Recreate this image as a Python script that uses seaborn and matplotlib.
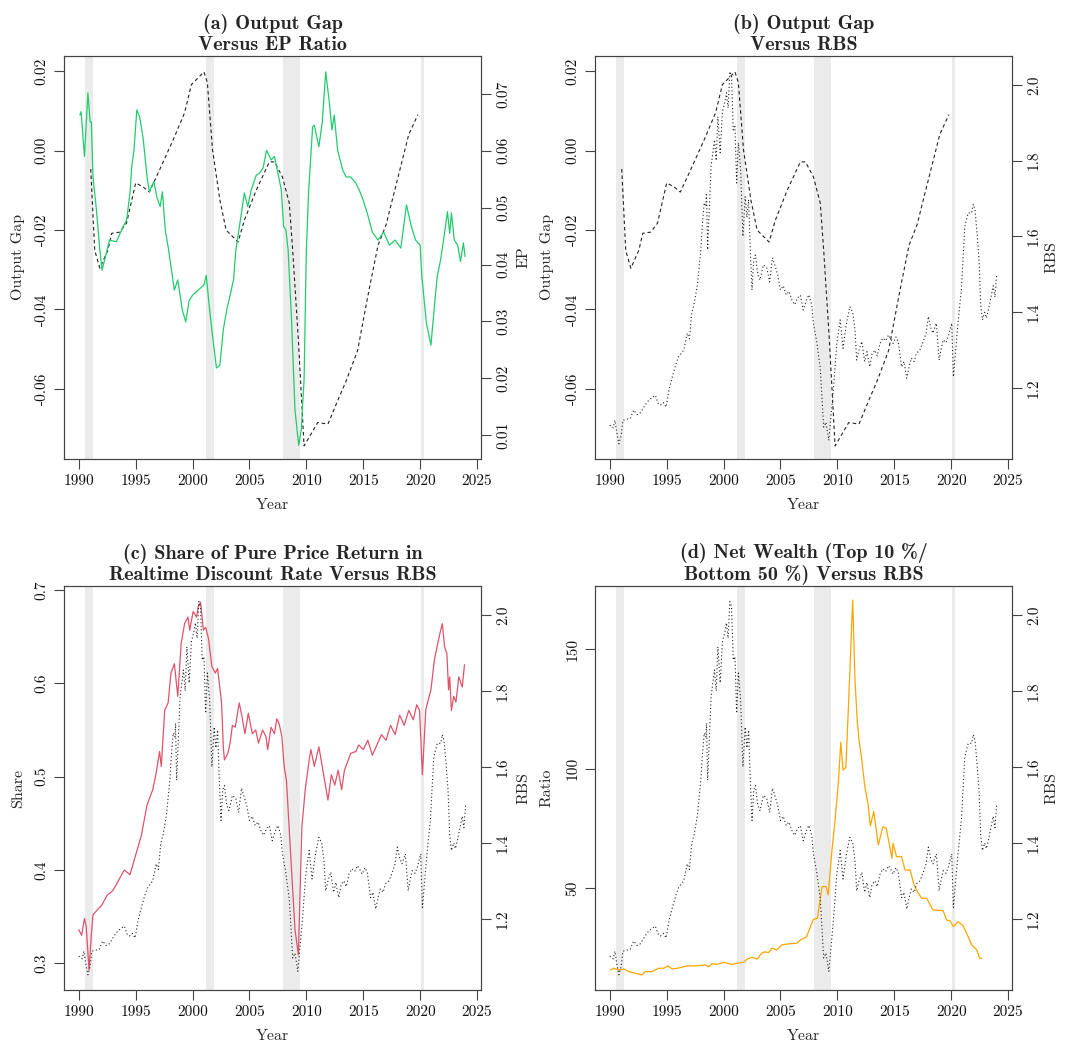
import matplotlib
matplotlib.use("Agg")
import matplotlib.pyplot as plt
import seaborn as sns

sns.set_style("ticks")
plt.rcParams['font.family'] = ['cmr10', 'DejaVu Serif']
plt.rcParams['axes.formatter.use_mathtext'] = True
plt.rcParams['axes.unicode_minus'] = False

# recession bands (NBER)
rec_start = [1990.55, 2001.2, 2007.95, 2020.08]
rec_end = [1991.22, 2001.9, 2009.48, 2020.3]

# output gap (quarterly, ends 2019)
gap_year = [1991.05, 1991.4, 1991.85, 1992.55, 1992.9, 1993.6, 1994.2, 1995.0, 1995.65, 1996.2,
            1997.1, 1998.3, 1999.3, 1999.9, 2001.0, 2001.3, 2001.75, 2002.4, 2002.95, 2004.0,
            2004.55, 2005.6, 2006.75, 2007.2, 2007.9, 2008.5, 2008.8, 2009.3, 2009.8, 2011.0,
            2011.9, 2012.75, 2013.5, 2014.5, 2015.5, 2016.3, 2017.0, 2018.0, 2019.0, 2019.8]
gap = [-0.0046, -0.0251, -0.0296, -0.0251, -0.0208, -0.0205, -0.0182, -0.0081, -0.0091, -0.0104,
       -0.0048, 0.0028, 0.0096, 0.0167, 0.0199, 0.0172, 0.0003, -0.0124, -0.0200, -0.0230,
       -0.0175, -0.0099, -0.0028, -0.0028, -0.0066, -0.0132, -0.0251, -0.0478, -0.0744, -0.0685,
       -0.0689, -0.0630, -0.0580, -0.0504, -0.0352, -0.0238, -0.0187, -0.0073, 0.0041, 0.0091]

# earnings-price ratio
ep_year = [1990.1, 1990.2, 1990.5, 1990.8, 1991.0, 1991.1, 1991.25, 1991.55, 1991.85, 1992.05,
           1992.7, 1993.3, 1993.9, 1994.2, 1994.5, 1994.65, 1994.85, 1995.1, 1995.35, 1995.65,
           1996.0, 1996.2, 1996.6, 1996.85, 1997.15, 1997.35, 1997.6, 1997.9, 1998.4, 1998.7,
           1999.1, 1999.4, 1999.7, 2000.0, 2000.5, 2001.0, 2001.2, 2001.5, 2001.8, 2002.1,
           2002.4, 2002.7, 2003.0, 2003.3, 2003.6, 2003.8, 2004.3, 2004.55, 2004.85, 2005.15,
           2005.6, 2005.9, 2006.2, 2006.5, 2006.9, 2007.2, 2007.5, 2007.8, 2008.0, 2008.2,
           2008.4, 2008.7, 2009.0, 2009.33, 2009.55, 2009.8, 2010.0, 2010.2, 2010.55, 2010.7,
           2011.1, 2011.4, 2011.7, 2012.0, 2012.25, 2012.45, 2012.75, 2013.2, 2013.5, 2013.9,
           2014.35, 2014.65, 2015.0, 2015.4, 2015.8, 2016.3, 2016.8, 2017.3, 2017.8, 2018.3,
           2018.8, 2019.2, 2019.6, 2020.0, 2020.15, 2020.55, 2020.95, 2021.25, 2021.5, 2021.8,
           2022.1, 2022.4, 2022.6, 2022.75, 2023.0, 2023.3, 2023.55, 2023.8, 2023.95]
ep = [0.0663, 0.0669, 0.0590, 0.0702, 0.0651, 0.0651, 0.0554, 0.0496, 0.0425, 0.0390,
      0.0443, 0.0440, 0.0467, 0.0478, 0.0526, 0.0572, 0.0601, 0.0672, 0.0660, 0.0623,
      0.0554, 0.0528, 0.0546, 0.0519, 0.0502, 0.0528, 0.0461, 0.0425, 0.0355, 0.0373,
      0.0320, 0.0299, 0.0337, 0.0346, 0.0355, 0.0364, 0.0381, 0.0320, 0.0267, 0.0218,
      0.0223, 0.0285, 0.0320, 0.0346, 0.0373, 0.0425, 0.0491, 0.0526, 0.0502, 0.0531,
      0.0557, 0.0561, 0.0570, 0.0601, 0.0584, 0.0590, 0.0561, 0.0531, 0.0467, 0.0461,
      0.0425, 0.0302, 0.0144, 0.0082, 0.0109, 0.0197, 0.0425, 0.0528, 0.0642, 0.0645,
      0.0607, 0.0651, 0.0739, 0.0689, 0.0637, 0.0663, 0.0601, 0.0566, 0.0554, 0.0554,
      0.0543, 0.0531, 0.0513, 0.0487, 0.0457, 0.0443, 0.0457, 0.0434, 0.0443, 0.0429,
      0.0505, 0.0469, 0.0443, 0.0434, 0.0379, 0.0297, 0.0258, 0.0326, 0.0379, 0.0408,
      0.0449, 0.0493, 0.0455, 0.0491, 0.0443, 0.0434, 0.0405, 0.0438, 0.0414]

# RBS
rbs_year = [1990.0, 1990.3, 1990.45, 1990.6, 1990.8, 1991.0, 1991.15, 1991.5, 1991.8, 1992.1,
            1992.4, 1992.7, 1993.0, 1993.3, 1993.7, 1994.0, 1994.25, 1994.45, 1994.7, 1994.95,
            1995.2, 1995.5, 1995.8, 1996.05, 1996.5, 1996.8, 1997.0, 1997.2, 1997.4, 1997.7,
            1998.0, 1998.15, 1998.3, 1998.45, 1998.5, 1998.6, 1998.9, 1999.2, 1999.35, 1999.5,
            1999.7, 1999.9, 2000.1, 2000.25, 2000.4, 2000.55, 2000.7, 2000.85, 2001.0, 2001.15,
            2001.3, 2001.5, 2001.7, 2001.9, 2002.05, 2002.2, 2002.35, 2002.5, 2002.65, 2002.8,
            2003.0, 2003.2, 2003.5, 2003.8, 2004.05, 2004.3, 2004.5, 2004.75, 2005.0, 2005.25,
            2005.5, 2005.75, 2006.0, 2006.25, 2006.5, 2006.75, 2007.0, 2007.25, 2007.5, 2007.75,
            2007.9, 2008.2, 2008.5, 2008.8, 2009.0, 2009.25, 2009.45, 2009.65, 2009.95, 2010.25,
            2010.5, 2010.8, 2011.1, 2011.35, 2011.55, 2011.7, 2011.9, 2012.15, 2012.4, 2012.6,
            2012.85, 2013.05, 2013.3, 2013.5, 2013.75, 2014.0, 2014.25, 2014.5, 2014.7, 2014.9,
            2015.15, 2015.35, 2015.65, 2015.85, 2016.1, 2016.3, 2016.5, 2016.75, 2016.95, 2017.25,
            2017.55, 2017.8, 2018.0, 2018.2, 2018.4, 2018.7, 2018.95, 2019.1, 2019.3, 2019.55,
            2019.75, 2020.05, 2020.2, 2020.4, 2020.6, 2020.9, 2021.2, 2021.5, 2021.8, 2021.95,
            2022.1, 2022.3, 2022.45, 2022.6, 2022.75, 2022.95, 2023.1, 2023.3, 2023.5, 2023.7,
            2023.85, 2024.0]
rbs = [1.102, 1.095, 1.115, 1.085, 1.053, 1.075, 1.115, 1.118, 1.120, 1.142,
       1.130, 1.135, 1.150, 1.164, 1.175, 1.181, 1.160, 1.155, 1.162, 1.150,
       1.195, 1.230, 1.262, 1.283, 1.300, 1.345, 1.330, 1.398, 1.420, 1.472,
       1.565, 1.636, 1.689, 1.679, 1.715, 1.565, 1.784, 1.855, 1.800, 1.916,
       1.821, 1.930, 1.953, 1.979, 1.939, 2.035, 2.022, 1.881, 1.890, 1.741,
       1.847, 1.776, 1.600, 1.705, 1.650, 1.697, 1.565, 1.459, 1.540, 1.551,
       1.500, 1.485, 1.525, 1.517, 1.480, 1.544, 1.525, 1.500, 1.459, 1.470,
       1.446, 1.455, 1.433, 1.420, 1.438, 1.445, 1.406, 1.430, 1.446, 1.420,
       1.371, 1.320, 1.252, 1.097, 1.110, 1.062, 1.130, 1.195, 1.318, 1.380,
       1.305, 1.371, 1.415, 1.400, 1.354, 1.274, 1.300, 1.323, 1.270, 1.296,
       1.256, 1.290, 1.300, 1.285, 1.318, 1.332, 1.325, 1.340, 1.330, 1.318,
       1.335, 1.323, 1.256, 1.270, 1.226, 1.255, 1.279, 1.270, 1.292, 1.300,
       1.323, 1.345, 1.389, 1.360, 1.345, 1.371, 1.274, 1.300, 1.327, 1.320,
       1.336, 1.371, 1.230, 1.300, 1.371, 1.460, 1.626, 1.662, 1.662, 1.685,
       1.670, 1.600, 1.540, 1.420, 1.380, 1.400, 1.385, 1.410, 1.440, 1.470,
       1.440, 1.500]

# share of pure price return in realtime discount rate
share_year = [1990.0, 1990.25, 1990.5, 1990.65, 1990.9, 1991.1, 1991.25, 1991.6, 1992.0, 1992.5,
              1993.0, 1993.5, 1994.0, 1994.5, 1995.0, 1995.5, 1996.0, 1996.5, 1996.8, 1997.1,
              1997.25, 1997.55, 1997.85, 1998.1, 1998.4, 1998.7, 1999.0, 1999.3, 1999.6, 1999.75,
              2000.05, 2000.35, 2000.5, 2000.7, 2000.95, 2001.15, 2001.4, 2001.7, 2002.0, 2002.2,
              2002.55, 2002.7, 2002.8, 2003.1, 2003.3, 2003.5, 2003.75, 2004.1, 2004.35, 2004.6,
              2004.9, 2005.25, 2005.55, 2005.8, 2006.15, 2006.45, 2006.6, 2006.9, 2007.2, 2007.4,
              2007.6, 2007.85, 2008.05, 2008.25, 2008.7, 2009.0, 2009.3, 2009.6, 2009.9, 2010.25,
              2010.4, 2010.7, 2011.1, 2011.3, 2011.6, 2011.9, 2012.2, 2012.5, 2012.8, 2013.1,
              2013.35, 2013.9, 2014.35, 2014.6, 2015.0, 2015.4, 2015.8, 2016.2, 2016.6, 2017.0,
              2017.4, 2017.8, 2018.2, 2018.6, 2019.0, 2019.4, 2019.7, 2019.95, 2020.2, 2020.5,
              2020.65, 2020.95, 2021.25, 2021.55, 2021.75, 2021.95, 2022.15, 2022.35, 2022.5, 2022.6,
              2022.75, 2022.95, 2023.15, 2023.4, 2023.7, 2023.9]
share = [0.336, 0.330, 0.348, 0.340, 0.293, 0.330, 0.352, 0.357, 0.362, 0.373,
         0.378, 0.389, 0.400, 0.395, 0.416, 0.437, 0.470, 0.486, 0.504, 0.527,
         0.511, 0.571, 0.579, 0.611, 0.621, 0.586, 0.643, 0.664, 0.671, 0.657,
         0.677, 0.671, 0.682, 0.687, 0.657, 0.660, 0.648, 0.618, 0.611, 0.616,
         0.579, 0.532, 0.518, 0.525, 0.536, 0.555, 0.553, 0.579, 0.564, 0.546,
         0.568, 0.546, 0.550, 0.536, 0.550, 0.543, 0.529, 0.553, 0.546, 0.562,
         0.557, 0.543, 0.511, 0.496, 0.400, 0.336, 0.309, 0.445, 0.486, 0.518,
         0.529, 0.511, 0.532, 0.518, 0.496, 0.475, 0.502, 0.491, 0.507, 0.486,
         0.507, 0.525, 0.527, 0.534, 0.529, 0.539, 0.523, 0.534, 0.545, 0.539,
         0.555, 0.545, 0.566, 0.555, 0.571, 0.561, 0.577, 0.571, 0.502, 0.572,
         0.579, 0.593, 0.625, 0.643, 0.654, 0.664, 0.639, 0.632, 0.593, 0.607,
         0.571, 0.586, 0.580, 0.607, 0.596, 0.620]

# net wealth ratio top 10% / bottom 50%
ratio_year = [1990.05, 1990.35, 1990.8, 1991.25, 1991.65, 1992.25, 1992.85, 1993.1, 1993.7, 1994.3,
              1994.75, 1995.1, 1995.5, 1995.95, 1996.8, 1997.65, 1998.4, 1998.7, 1999.0, 1999.4,
              2000.0, 2000.75, 2001.3, 2001.75, 2002.05, 2002.5, 2002.95, 2003.35, 2003.65, 2003.95,
              2004.25, 2004.7, 2005.1, 2005.7, 2006.45, 2006.75, 2007.3, 2007.75, 2007.9, 2008.25,
              2008.65, 2009.0, 2009.2, 2009.5, 2009.8, 2010.1, 2010.3, 2010.5, 2010.75, 2011.0,
              2011.35, 2011.55, 2011.75, 2011.9, 2012.15, 2012.4, 2012.7, 2012.9, 2013.2, 2013.6,
              2014.0, 2014.3, 2014.8, 2014.9, 2015.2, 2015.65, 2015.95, 2016.4, 2016.7, 2016.95,
              2017.4, 2017.85, 2018.4, 2019.3, 2019.6, 2019.9, 2020.2, 2020.6, 2021.05, 2021.5,
              2021.8, 2022.25, 2022.5, 2022.7]
ratio = [15.7, 16.4, 15.7, 16.1, 15.0, 14.3, 13.6, 15.0, 15.0, 16.4,
         16.4, 17.4, 16.1, 16.4, 17.4, 17.4, 17.8, 17.0, 18.3, 18.0,
         18.9, 18.0, 18.6, 18.9, 20.2, 21.0, 20.2, 22.7, 23.3, 22.9,
         24.8, 24.1, 26.2, 26.6, 26.9, 28.2, 29.6, 35.2, 36.9, 37.3,
         50.6, 50.6, 47.1, 64.5, 78.5, 95.0, 111.0, 99.4, 100.5, 128.7,
         170.5, 137.0, 120.0, 112.0, 103.6, 93.0, 85.0, 76.0, 82.0, 68.0,
         75.6, 75.0, 62.4, 68.7, 63.1, 63.1, 57.5, 57.5, 52.0, 49.2,
         45.7, 45.7, 40.8, 40.5, 36.6, 36.3, 33.8, 35.9, 34.2, 29.6,
         26.2, 24.1, 20.6, 20.6]

year_ticks = [1990, 1995, 2000, 2005, 2010, 2015, 2020, 2025]
gap_ticks = [-0.06, -0.04, -0.02, 0.00, 0.02]
gap_labels = ["-0.06", "-0.04", "-0.02", "0.00", "0.02"]
ep_ticks = [0.01, 0.02, 0.03, 0.04, 0.05, 0.06, 0.07]
ep_labels = ["0.01", "0.02", "0.03", "0.04", "0.05", "0.06", "0.07"]
rbs_ticks = [1.2, 1.4, 1.6, 1.8, 2.0]
rbs_labels = ["1.2", "1.4", "1.6", "1.8", "2.0"]
share_ticks = [0.3, 0.4, 0.5, 0.6, 0.7]
share_labels = ["0.3", "0.4", "0.5", "0.6", "0.7"]
ratio_ticks = [50, 100, 150]
ratio_labels = ["50", "100", "150"]

W, H = 1065, 1046
fig = plt.figure(figsize=(W / 100, H / 100), dpi=100)
TITLE_FONT = ['cmb10', 'DejaVu Serif']
DASH = (0, (3.2, 2.6))
DOT = (0, (1, 2.2))


def make_axes(l, t, r, b):
    return fig.add_axes([l / W, 1 - b / H, (r - l) / W, (b - t) / H])


def style_y(ax, ticks, labels, ylim):
    ax.set_ylim(ylim)
    ax.set_yticks(ticks)
    ax.set_yticklabels(labels)
    ax.tick_params(axis='y', labelrotation=90, length=7, width=0.8, pad=4,
                   labelsize=11, color='#444444', labelcolor='#111111')
    for lab in ax.get_yticklabels():
        lab.set_va('center')
    for sp in ax.spines.values():
        sp.set_visible(True)
        sp.set_color('#444444')
        sp.set_linewidth(0.8)


def panel(box, title, ylim_l, ticks_l, labs_l, ylab_l, ylim_r, ticks_r, labs_r, ylab_r,
          lab_l_x, lab_r_x):
    xlim = (1988.7, 2025.35)
    ax = make_axes(*box)
    ax.set_xlim(xlim)
    for s, e in zip(rec_start, rec_end):
        ax.axvspan(s, e, color='#EBEBEB', lw=0, zorder=0)
    ax.set_xticks(year_ticks)
    ax.set_xticklabels([str(y) for y in year_ticks])
    ax.tick_params(axis='x', length=7, width=0.8, pad=4, labelsize=11,
                   color='#444444', labelcolor='#111111')
    style_y(ax, ticks_l, labs_l, ylim_l)
    ax.set_xlabel("Year", fontsize=11.5, va='center')
    ax.xaxis.set_label_coords(0.5, -0.114)
    ax.set_ylabel(ylab_l, fontsize=11.5, va='center')
    ax.yaxis.set_label_coords(lab_l_x, 0.5)
    ax.set_title(title, fontfamily=TITLE_FONT, fontsize=14.5, pad=4, linespacing=1.15)
    ax2 = ax.twinx()
    ax2.set_xlim(xlim)
    style_y(ax2, ticks_r, labs_r, ylim_r)
    ax2.set_ylabel(ylab_r, fontsize=11.5, va='center', rotation=90)
    ax2.yaxis.set_label_coords(lab_r_x, 0.5)
    return ax, ax2


GAP_LIM = (-0.0777, 0.0239)
RBS_LIM = (1.013, 2.076)

# (a)
ax, ax2 = panel((64, 56, 481, 459), "(a) Output Gap\nVersus EP Ratio",
                GAP_LIM, gap_ticks, gap_labels, "Output Gap",
                (0.00578, 0.07669), ep_ticks, ep_labels, "EP", -0.110, 1.103)
sns.lineplot(x=gap_year, y=gap, ax=ax, color='#222222', lw=0.8, linestyle=DASH,
             estimator=None, legend=False)
sns.lineplot(x=ep_year, y=ep, ax=ax2, color='#22CC6E', lw=0.9,
             estimator=None, legend=False)

# (b)
ax, ax2 = panel((595, 56, 1012, 459), "(b) Output Gap\nVersus RBS",
                GAP_LIM, gap_ticks, gap_labels, "Output Gap",
                RBS_LIM, rbs_ticks, rbs_labels, "RBS", -0.115, 1.096)
sns.lineplot(x=gap_year, y=gap, ax=ax, color='#222222', lw=0.8, linestyle=DASH,
             estimator=None, legend=False)
sns.lineplot(x=rbs_year, y=rbs, ax=ax2, color='#222222', lw=0.8, linestyle=DOT,
             estimator=None, legend=False)

# (c)
ax, ax2 = panel((64, 586, 481, 990),
                "(c) Share of Pure Price Return in\nRealtime Discount Rate Versus RBS",
                (0.2714, 0.7043), share_ticks, share_labels, "Share",
                RBS_LIM, rbs_ticks, rbs_labels, "RBS", -0.110, 1.103)
sns.lineplot(x=share_year, y=share, ax=ax, color='#DF536B', lw=0.9,
             estimator=None, legend=False)
sns.lineplot(x=rbs_year, y=rbs, ax=ax2, color='#222222', lw=0.8, linestyle=DOT,
             estimator=None, legend=False)

# (d)
ax, ax2 = panel((595, 586, 1012, 990),
                "(d) Net Wealth (Top 10 %/\nBottom 50 %) Versus RBS",
                (7.3, 176.4), ratio_ticks, ratio_labels, "Ratio",
                RBS_LIM, rbs_ticks, rbs_labels, "RBS", -0.115, 1.096)
sns.lineplot(x=ratio_year, y=ratio, ax=ax, color='#FFA500', lw=0.9,
             estimator=None, legend=False)
sns.lineplot(x=rbs_year, y=rbs, ax=ax2, color='#222222', lw=0.8, linestyle=DOT,
             estimator=None, legend=False)

fig.savefig("out.png", dpi=100, facecolor='white')
